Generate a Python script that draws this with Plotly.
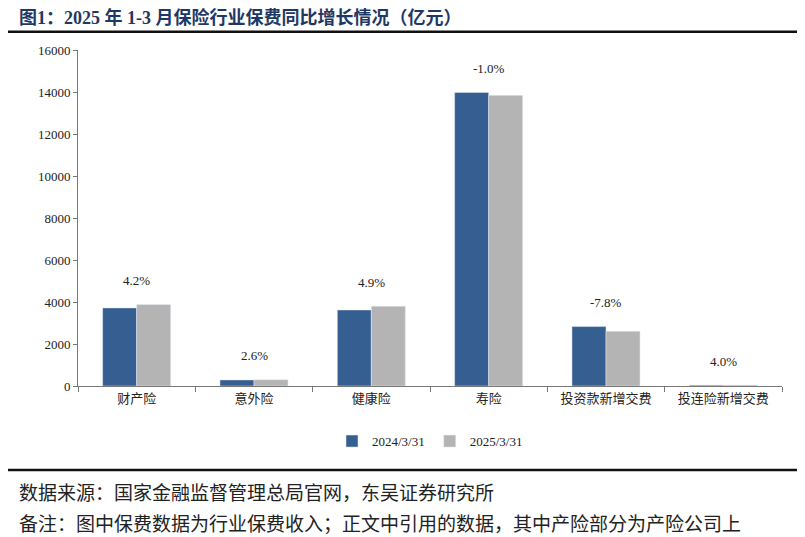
import plotly.graph_objects as go

# data
categories = ["财产险", "意外险", "健康险", "寿险", "投资款新增交费", "投连险新增交费"]
values_2024 = [3720, 290, 3620, 13980, 2830, 40]
values_2025 = [3880, 297, 3800, 13840, 2610, 42]
growth_labels = ["4.2%", "2.6%", "4.9%", "-1.0%", "-7.8%", "4.0%"]

serif = "Liberation Serif, Noto Sans CJK SC"
cjk = "Noto Sans CJK SC"

fig = go.Figure()
fig.add_trace(go.Bar(x=categories, y=values_2024, name="2024/3/31", marker_color="#355e91"))
fig.add_trace(go.Bar(x=categories, y=values_2025, name="2025/3/31", marker_color="#b4b4b4"))

# growth labels above each group
for cat, a, b, g in zip(categories, values_2024, values_2025, growth_labels):
    fig.add_annotation(x=cat, y=max(a, b), text=g, showarrow=False, yshift=24,
                       font=dict(family=serif, size=13, color="#222"))

# title, rules and footnotes (page body adds an 8px margin, so the figure is 8px smaller)
fig.add_annotation(xref="paper", yref="paper", x=-0.087, y=1.098, xanchor="left", yanchor="middle",
                   text="<b>图1：2025 年 1-3 月保险行业保费同比增长情况（亿元）</b>", showarrow=False,
                   font=dict(family="Liberation Serif, Noto Sans CJK SC", size=18, color="#1f3864"))
fig.add_shape(type="line", xref="paper", yref="paper", x0=-0.1, x1=1.026, y0=1.054, y1=1.054,
              line=dict(color="#111", width=2.5))
fig.add_shape(type="line", xref="paper", yref="paper", x0=-0.1, x1=1.026, y0=-0.25, y1=-0.25,
              line=dict(color="#111", width=2.5))
fig.add_annotation(xref="paper", yref="paper", x=-0.087, y=-0.315, xanchor="left", yanchor="middle",
                   text="数据来源：国家金融监督管理总局官网，东吴证券研究所", showarrow=False,
                   font=dict(family=cjk, size=19, color="#222"))
fig.add_annotation(xref="paper", yref="paper", x=-0.087, y=-0.405, xanchor="left", yanchor="middle",
                   text="备注：图中保费数据为行业保费收入；正文中引用的数据，其中产险部分为产险公司上", showarrow=False,
                   font=dict(family=cjk, size=19, color="#222"))

fig.update_layout(
    width=797, height=529,
    margin=dict(l=70, r=23, t=42, b=151),
    plot_bgcolor="white", paper_bgcolor="white",
    barmode="group", bargap=0.42, bargroupgap=0,
    showlegend=True,
    legend=dict(orientation="h", x=0.5, xanchor="center", y=-0.164, yanchor="middle",
                font=dict(family=serif, size=13, color="#222"), itemwidth=30),
    xaxis=dict(showline=True, linecolor="#777", linewidth=1, ticks="outside", tickson="boundaries",
               ticklen=5, tickcolor="#777", tickfont=dict(family=cjk, size=13, color="#222")),
    yaxis=dict(range=[0, 16000], dtick=2000, tickformat="d", showgrid=False, showline=True,
               linecolor="#777", ticks="outside", ticklen=4, tickcolor="#777", zeroline=False,
               tickfont=dict(family=serif, size=13, color="#222")),
)

fig.write_html("out.html")
